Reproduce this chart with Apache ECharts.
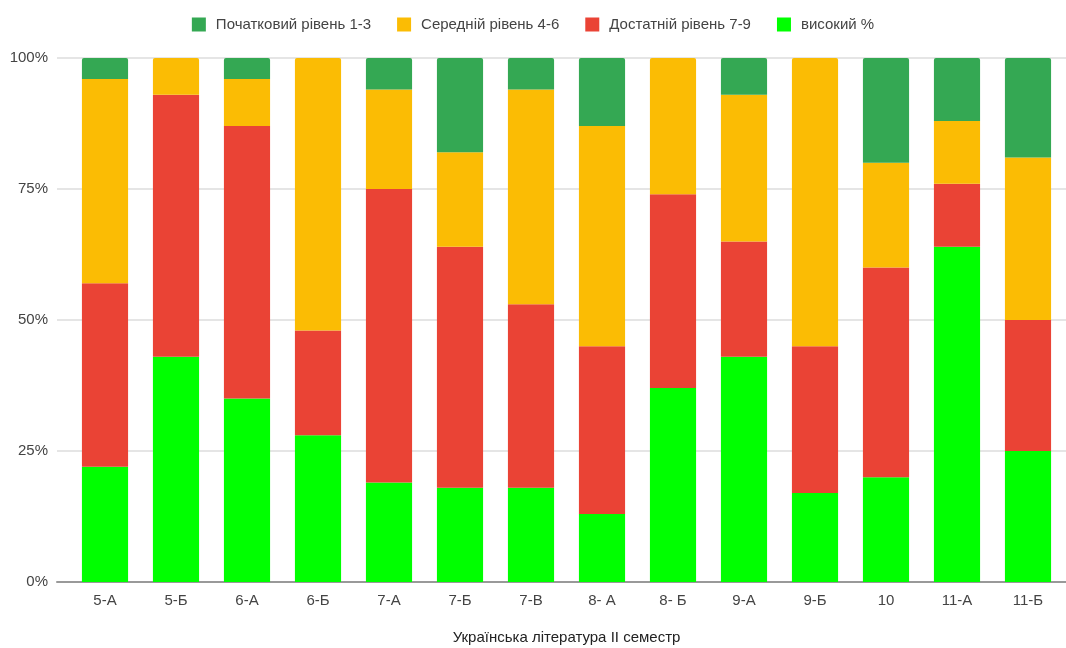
<!DOCTYPE html>
<html><head><meta charset="utf-8">
<script src="https://cdn.jsdelivr.net/npm/echarts@6/dist/echarts.min.js"></script>
<style>html,body{margin:0;padding:0;background:#fff}#c{width:1066px;height:648px}</style>
</head><body><div id="c"></div>
<script>
const categories = ['5-А','5-Б','6-А','6-Б','7-А','7-Б','7-В','8- А','8- Б','9-А','9-Б','10','11-А','11-Б'];
const high =      [22, 43, 35, 28, 19, 18, 18, 13, 37, 43, 17, 20, 64, 25];
const sufficient= [35, 50, 52, 20, 56, 46, 35, 32, 37, 22, 28, 40, 12, 25];
const medium =    [39,  7,  9, 52, 19, 18, 41, 42, 26, 28, 55, 20, 12, 31];
const initial =   [ 4,  0,  4,  0,  6, 18,  6, 13,  0,  7,  0, 20, 12, 19];
const yTicks = ['0%','25%','50%','75%','100%'];
const seriesNames = ['Початковий рівень 1-3','Середній рівень 4-6','Достатній рівень 7-9','високий %'];
const colors = {initial:'#34a853', medium:'#fbbc04', sufficient:'#ea4335', high:'#00ff00'};

const stackOrder = [high, sufficient, medium, initial];
function topIndex(i){ let t=-1; stackOrder.forEach((arr,k)=>{ if(arr[i]>0) t=k; }); return t; }
function items(arr, k){
  return arr.map((v,i)=> topIndex(i)===k ? {value:v, itemStyle:{borderRadius:[2,2,0,0]}} : v);
}

const chart = echarts.init(document.getElementById('c'));
const font = 'Arial, "Liberation Sans", sans-serif';
function mk(name, k, color){
  return {name, type:'bar', stack:'s', data:items(stackOrder[k], k), barWidth:'65%',
    xAxisIndex:0, yAxisIndex:0, itemStyle:{color}, emphasis:{disabled:true}};
}
chart.setOption({
  animation:false,
  legend:{top:12, left:'center', itemWidth:14, itemHeight:14, itemGap:26, icon:'rect',
    textStyle:{fontFamily:font, fontSize:15, color:'#444', padding:[0,0,0,5]},
    data:seriesNames},
  grid:[
    {left:69.5, right:2.5, top:58, bottom:66, outerBoundsMode:'none', containLabel:false},
    {left:57, right:0, top:58, bottom:66, outerBoundsMode:'none', containLabel:false}
  ],
  xAxis:[
    {type:'category', gridIndex:0, data:categories, name:'Українська література II семестр',
      nameLocation:'middle', nameGap:48, nameTextStyle:{fontFamily:font, fontSize:15, color:'#222'},
      axisTick:{show:false}, axisLine:{show:false},
      axisLabel:{fontFamily:font, fontSize:15, color:'#444', margin:11}},
    {type:'value', gridIndex:1, min:0, max:1, axisLabel:{show:false}, axisTick:{show:false},
      splitLine:{show:false}, axisLine:{show:true, lineStyle:{color:'#999', width:2}}}
  ],
  yAxis:[
    {type:'value', gridIndex:0, min:0, max:100, interval:25, axisLabel:{show:false},
      splitLine:{show:false}, axisLine:{show:false}, axisTick:{show:false}},
    {type:'value', gridIndex:1, min:0, max:100, interval:25,
      axisLabel:{fontFamily:font, fontSize:15, color:'#444', margin:9, formatter:(v)=>yTicks[v/25]},
      splitLine:{lineStyle:{color:'#ddd', width:1.5}}, axisLine:{show:false}, axisTick:{show:false}}
  ],
  series:[
    mk(seriesNames[3], 0, colors.high),
    mk(seriesNames[2], 1, colors.sufficient),
    mk(seriesNames[1], 2, colors.medium),
    mk(seriesNames[0], 3, colors.initial)
  ]
});
</script></body></html>
